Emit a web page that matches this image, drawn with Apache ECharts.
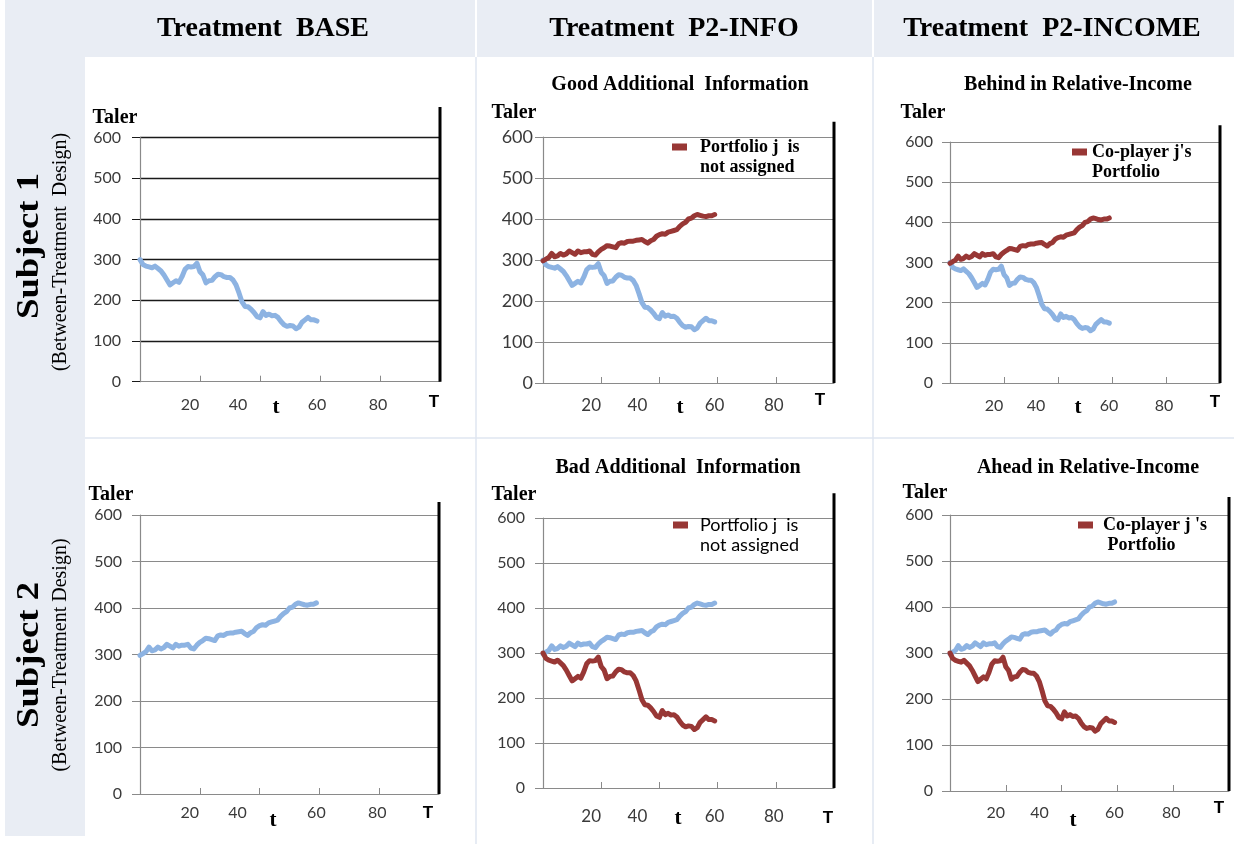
<!DOCTYPE html>
<html><head><meta charset="utf-8">
<script src="https://cdn.jsdelivr.net/npm/echarts@6/dist/echarts.min.js"></script>
<style>html,body{margin:0;padding:0;background:#fff}#c{width:1234px;height:844px}</style>
</head><body><div id="c"></div>
<script>
// ---------- DATA ----------
// Portfolio value in Taler at periods t = 0..59
const portfolioFalling = [300,288,284,282,280,284,278,272,262,250,238,243,248,244,258,276,283,282,283,291,
  270,262,243,248,249,258,264,263,258,256,256,250,238,218,196,185,184,178,170,160,
  157,172,163,166,162,163,158,148,140,136,138,137,130,134,146,152,158,152,152,149];
const portfolioRising = [298,302,306,316,308,310,316,312,315,322,318,314,322,318,320,320,322,314,312,320,
  326,330,335,334,332,330,340,342,341,345,346,346,348,349,350,345,341,347,350,358,
  362,364,363,368,370,372,374,382,388,392,400,402,408,411,409,407,406,408,408,411];
const xTickLabels = [20, 40, 60, 80];
const yTickValues = [0, 100, 200, 300, 400, 500, 600];
const columnHeaders = ['Treatment  BASE', 'Treatment  P2-INFO', 'Treatment  P2-INCOME'];
const rowHeaders = ['Subject 1', 'Subject 2'];
const rowSubHeaders = ['(Between-Treatment  Design)', '(Between-Treatment Design)'];
const panelTitles = ['', 'Good Additional  Information', 'Behind in Relative-Income',
                     '', 'Bad Additional  Information', 'Ahead in Relative-Income'];
const legendLines = [null, ['Portfolio j  is', 'not assigned'], ["Co-player j's", 'Portfolio'],
                     null, ['Portfolio j  is', 'not assigned'], ["Co-player j 's", ' Portfolio']];
// which series is the subject's own portfolio (blue) and the co-player's (red)
const ownSeries   = ['falling', 'falling', 'falling', 'rising', 'rising', 'rising'];
const otherSeries = [null, 'rising', 'rising', null, 'falling', 'falling'];
const horizonEnd = 100;              // T
const horizonLineTop = [675, 637, 642, 628, 655, 639];

// ---------- LAYOUT ----------
const W = 1234, H = 844;
const P = [
  {l:140, t:137.5, r:440, b:381.7, grid:'#1a1a1a', yFs:16, xFs:16, xM:15, yM:19, title:null, tal:[115,118], tt:[276,408], TT:[434,402],
   leg:null},
  {l:543, t:137, r:834, b:383, grid:'#8a8a8a', yFs:18, xFs:17, xM:14, yM:10, title:[680,85], tal:[514,113], tt:[680,408], TT:[820,400],
   leg:{x:672, y:147, gap:13, serif:true}},
  {l:950, t:142, r:1220, b:383, grid:'#8a8a8a', yFs:16, xFs:16, xM:15, yM:17, title:[1078,85], tal:[923,113], tt:[1078,408], TT:[1215,402],
   leg:{x:1072, y:152, gap:5, serif:true}},
  {l:140, t:515, r:439, b:794, grid:'#8a8a8a', yFs:16, xFs:16, xM:11, yM:18, title:null, tal:[111,495], tt:[273,821], TT:[428,813],
   leg:null},
  {l:543, t:518, r:834, b:788, grid:'#8a8a8a', yFs:16, xFs:17, xM:20, yM:18, title:[678,468], tal:[514,495], tt:[678,819], TT:[828,818],
   leg:{x:673, y:525, gap:12, serif:false}},
  {l:950, t:515, r:1229, b:791, grid:'#8a8a8a', yFs:16, xFs:16, xM:14, yM:17, title:[1088,468], tal:[925,493], tt:[1073,821], TT:[1219,808],
   leg:{x:1078, y:525, gap:10, serif:true}}
];

const BLUE = '#8db3e2', RED = '#983735';
const SERIF = '"Liberation Serif", "Times New Roman", serif';
const SANS = 'Lato, "Liberation Sans", sans-serif';
const seriesData = {
  falling: portfolioFalling.map((v, i) => [i, v]),
  rising: portfolioRising.map((v, i) => [i, v])
};
const labelShift = {20: 20, 40: 44, 60: 6, 80: 4};
const LH = 20;   // legend line height
// legend swatch drawn at the top of a taller (invisible) box so it lines up with the first text line
const legendIcon = 'path://M0,0h15v7h-15zM0,' + (LH + 7) + 'h0.01';

const grids = [], xAxes = [], yAxes = [], series = [], legends = [], graphics = [];

// backgrounds
graphics.push({type:'rect', z:-10, shape:{x:5, y:0, width:W-5, height:57}, style:{fill:'#e9edf4'}});
graphics.push({type:'rect', z:-10, shape:{x:5, y:0, width:80, height:836}, style:{fill:'#e9edf4'}});
[475, 872].forEach(x => {
  graphics.push({type:'rect', z:-9, shape:{x:x, y:0, width:2, height:57}, style:{fill:'#ffffff'}});
  graphics.push({type:'line', z:-9, shape:{x1:x+1, y1:57, x2:x+1, y2:H}, style:{stroke:'#dfe6f0', lineWidth:1.5}});
});
graphics.push({type:'line', z:-9, shape:{x1:85, y1:438, x2:W, y2:438}, style:{stroke:'#dfe6f0', lineWidth:1.5}});

// column headers
[263, 674, 1052].forEach((cx, i) => {
  graphics.push({type:'text', x:cx, y:29, style:{text:columnHeaders[i], fill:'#000',
    font:'bold 28px ' + SERIF, textAlign:'center', textVerticalAlign:'middle'}});
});
// row headers (rotated)
[[30, 246, 61, 252], [30, 655, 61, 655]].forEach((p, i) => {
  graphics.push({type:'text', x:p[0], y:p[1], rotation:Math.PI/2, scaleX:1.15,
    style:{text:rowHeaders[i], fill:'#000', font:'bold 32px ' + SERIF, textAlign:'center', textVerticalAlign:'middle'}});
  graphics.push({type:'text', x:p[2], y:p[3], rotation:Math.PI/2,
    style:{text:rowSubHeaders[i], fill:'#000', font:'20px ' + SERIF, textAlign:'center', textVerticalAlign:'middle'}});
});

P.forEach((p, k) => {
  grids.push({left:p.l, top:p.t, width:p.r - p.l, height:p.b - p.t, containLabel:false});
  xAxes.push({
    type:'value', gridIndex:k, min:0, max:horizonEnd, interval:20,
    axisLine:{show:true, onZero:false, lineStyle:{color:'#8a8a8a', width:1.2}},
    axisTick:{show:true, inside:true, length:6, lineStyle:{color:'#8a8a8a'}},
    splitLine:{show:false},
    axisLabel:{
      margin:p.xM, color:'#3a3a3a', fontFamily:SANS, fontSize:p.xFs,
      showMinLabel:false, showMaxLabel:false,
      formatter: v => xTickLabels.includes(v) ? '{s' + v + '|' + v + '}' : '',
      rich: Object.fromEntries(xTickLabels.map(v => ['s' + v, {padding:[0, labelShift[v], 0, 0], fontFamily:SANS, fontSize:p.xFs, color:'#3a3a3a'}]))
    }
  });
  yAxes.push({
    type:'value', gridIndex:k, min:0, max:600, interval:100,
    axisLine:{show:true, lineStyle:{color:'#8a8a8a', width:1.2}},
    axisTick:{show:true, length:8, lineStyle:{color:p.grid}},
    axisLabel:{margin:p.yM, color:'#3a3a3a', fontFamily:SANS, fontSize:p.yFs,
      formatter: v => yTickValues.includes(v) ? String(v) : ''},
    splitLine:{show:true, showMinLine:false, lineStyle:{color:p.grid, width: k === 0 ? 1.4 : 1.1}}
  });
  // own portfolio (blue)
  series.push({
    type:'line', name:'Own portfolio ' + k, xAxisIndex:k, yAxisIndex:k, data:seriesData[ownSeries[k]],
    symbol:'none', z:3, lineStyle:{color:BLUE, width:5, cap:'round', join:'round'}, itemStyle:{color:BLUE}
  });
  // co-player / portfolio j (red)
  if (otherSeries[k]) {
    const nm = legendLines[k].join('\n');
    series.push({
      type:'line', name:nm, xAxisIndex:k, yAxisIndex:k, data:seriesData[otherSeries[k]],
      symbol:'none', z:4, lineStyle:{color:RED, width:5, cap:'round', join:'round'}, itemStyle:{color:RED}
    });
    const lg = p.leg;
    const fam = lg.serif ? SERIF : SANS;
    const fw = lg.serif ? 'bold' : 'normal';
    legends.push({
      data:[{name:nm, icon:legendIcon}], left:lg.x, top:lg.y - LH / 2, padding:0,
      itemWidth:15, itemHeight:LH + 7, selectedMode:false,
      itemStyle:{color:RED},
      textStyle:{color:'#000', fontFamily:fam, fontWeight:fw, fontSize:18, lineHeight:LH,
        padding:[0, 0, 0, lg.gap - 5]}
    });
  }
  // horizon T line
  series.push({
    type:'line', name:'Horizon ' + k, xAxisIndex:k, yAxisIndex:k, clip:false, silent:true,
    data:[[horizonEnd, 0], [horizonEnd, horizonLineTop[k]]],
    symbol:'none', z:5, lineStyle:{color:'#000', width:3}
  });

  // texts
  if (panelTitles[k]) {
    graphics.push({type:'text', x:p.title[0], y:p.title[1], style:{text:panelTitles[k], fill:'#000',
      font:'bold 20px ' + SERIF, textAlign:'center', textVerticalAlign:'middle'}});
  }
  graphics.push({type:'text', x:p.tal[0], y:p.tal[1], style:{text:'Taler', fill:'#000',
    font:'bold 20px ' + SERIF, textAlign:'center', textVerticalAlign:'middle'}});
  graphics.push({type:'text', x:p.tt[0], y:p.tt[1], style:{text:'t', fill:'#000',
    font:'bold 21px ' + SERIF, textAlign:'center', textVerticalAlign:'middle'}});
  graphics.push({type:'text', x:p.TT[0], y:p.TT[1], style:{text:'T', fill:'#000',
    font:'bold 17px "Liberation Sans", Arial, sans-serif', textAlign:'center', textVerticalAlign:'middle'}});
});

const chart = echarts.init(document.getElementById('c'), null, {renderer:'canvas', width:W, height:H});
chart.setOption({
  animation:false,
  backgroundColor:'#ffffff',
  grid:grids, xAxis:xAxes, yAxis:yAxes, series:series, legend:legends,
  graphic:{elements:graphics}
});
</script>
</body></html>
